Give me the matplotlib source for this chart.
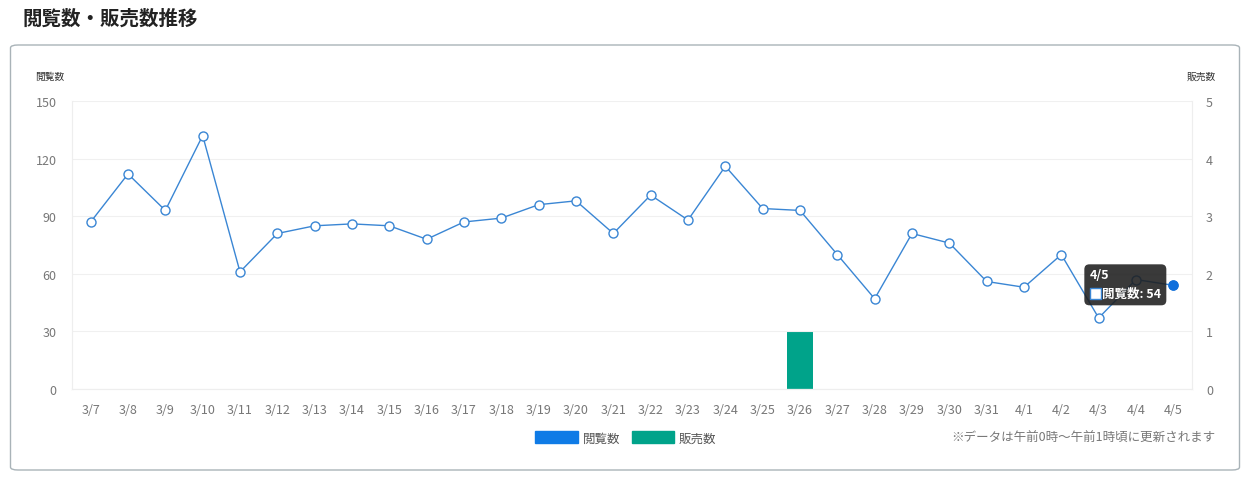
import matplotlib.pyplot as plt
import matplotlib.transforms as mtransforms
from matplotlib.patches import FancyBboxPatch, Patch, Rectangle
import numpy as np

plt.rcParams['font.family'] = ['Noto Sans CJK JP', 'DejaVu Sans']

dates = ["3/7", "3/8", "3/9", "3/10", "3/11", "3/12", "3/13", "3/14", "3/15", "3/16",
         "3/17", "3/18", "3/19", "3/20", "3/21", "3/22", "3/23", "3/24", "3/25", "3/26",
         "3/27", "3/28", "3/29", "3/30", "3/31", "4/1", "4/2", "4/3", "4/4", "4/5"]
views = [87, 112, 93, 132, 61, 81, 85, 86, 85, 78,
         87, 89, 96, 98, 81, 101, 88, 116, 94, 93,
         70, 47, 81, 76, 56, 53, 70, 37, 57, 54]
sales = [0, 0, 0, 0, 0, 0, 0, 0, 0, 0,
         0, 0, 0, 0, 0, 0, 0, 0, 0, 1,
         0, 0, 0, 0, 0, 0, 0, 0, 0, 0]
view_ticks = [0, 30, 60, 90, 120, 150]
sales_ticks = [0, 1, 2, 3, 4, 5]

W, H = 1254, 481
fig = plt.figure(figsize=(W / 100, H / 100), dpi=100)

# card frame (behind the axes)
card = FancyBboxPatch((10.5 / W, 1 - 471 / H), 1229 / W, 425 / H,
                      boxstyle="round,pad=0,rounding_size=0.006",
                      transform=fig.transFigure, fc="white", ec="#a9b3b8", lw=1,
                      zorder=-5)
fig.patches.append(card)

fig.text(22 / W, 1 - 19 / H, "閲覧数・販売数推移", fontsize=14, fontweight="bold",
         color="#222222", va="center", ha="left")

ax = fig.add_axes([72 / W, 1 - 390 / H, 1120 / W, 288 / H])
ax2 = ax.twinx()
ax.set_zorder(ax2.get_zorder() + 1)
ax.patch.set_visible(False)
ax2.patch.set_visible(False)

x = np.arange(len(dates))
line_col = "#3a86d4"
ax2.bar(x, sales, width=0.72, color="#00a38a")
ax.plot(x, views, color=line_col, lw=1, marker="o", ms=6.5,
        mfc="white", mec=line_col, mew=1.0, zorder=3)
ax.plot(x[-1], views[-1], "o", ms=6.5, color="#0f6fdc", zorder=4)

ax.set_xlim(-0.5, len(dates) - 0.5)
ax.set_ylim(0, 150)
ax2.set_ylim(0, 5)
ax.set_yticks(view_ticks)
ax2.set_yticks(sales_ticks)
ax.set_xticks(x)
ax.set_xticklabels(dates)

for a in (ax, ax2):
    for s in a.spines.values():
        s.set_color("#eeeeee")
        s.set_linewidth(0.8)
    a.spines["top"].set_visible(False)
    a.tick_params(length=0, labelsize=9, colors="#777777")
ax.tick_params(axis="y", pad=11)
ax.tick_params(axis="x", pad=10)
ax2.tick_params(axis="y", pad=10)
ax.grid(axis="y", color="#f0f0f0", lw=0.8)
ax.set_axisbelow(True)

fig.text(50 / W, 1 - 77 / H, "閲覧数", fontsize=7, color="#333333", ha="center", va="center")
fig.text(1201 / W, 1 - 77 / H, "販売数", fontsize=7, color="#333333", ha="center", va="center")

# tooltip at last point
pt = mtransforms.ScaledTranslation(x[-1], views[-1], ax.transData)
tt = mtransforms.Affine2D() + pt
tip = FancyBboxPatch((-89, -20), 82, 41, boxstyle="round,pad=0,rounding_size=5",
                     transform=tt, fc="#1e1e1e", ec="none", alpha=0.88, zorder=10,
                     clip_on=False)
ax.add_patch(tip)
ax.text(-84, 11, "4/5", transform=tt, color="white", fontsize=9, fontweight="bold",
        ha="left", va="center", zorder=11)
sq = Rectangle((-83, -14), 11, 11, transform=tt, fc="white", ec="#3a86d4", lw=1,
               zorder=11, clip_on=False)
ax.add_patch(sq)
ax.text(-71, -8, "閲覧数: 54", transform=tt, color="white", fontsize=9,
        fontweight="bold", ha="left", va="center", zorder=11)

handles = [Patch(fc="#0f7be6", ec="#0f7be6", label="閲覧数"),
           Patch(fc="#00a38a", ec="#00a38a", label="販売数")]
fig.legend(handles=handles, loc="center", bbox_to_anchor=(626 / W, 1 - 439 / H),
           ncol=2, frameon=False, fontsize=9, handlelength=3.4, handleheight=1.1,
           handletextpad=0.4, columnspacing=0.9, labelcolor="#555555")

fig.text(1215 / W, 1 - 438 / H, "※データは午前0時～午前1時頃に更新されます",
         fontsize=9, color="#777777", ha="right", va="center")

fig.savefig("out.png", dpi=100)
